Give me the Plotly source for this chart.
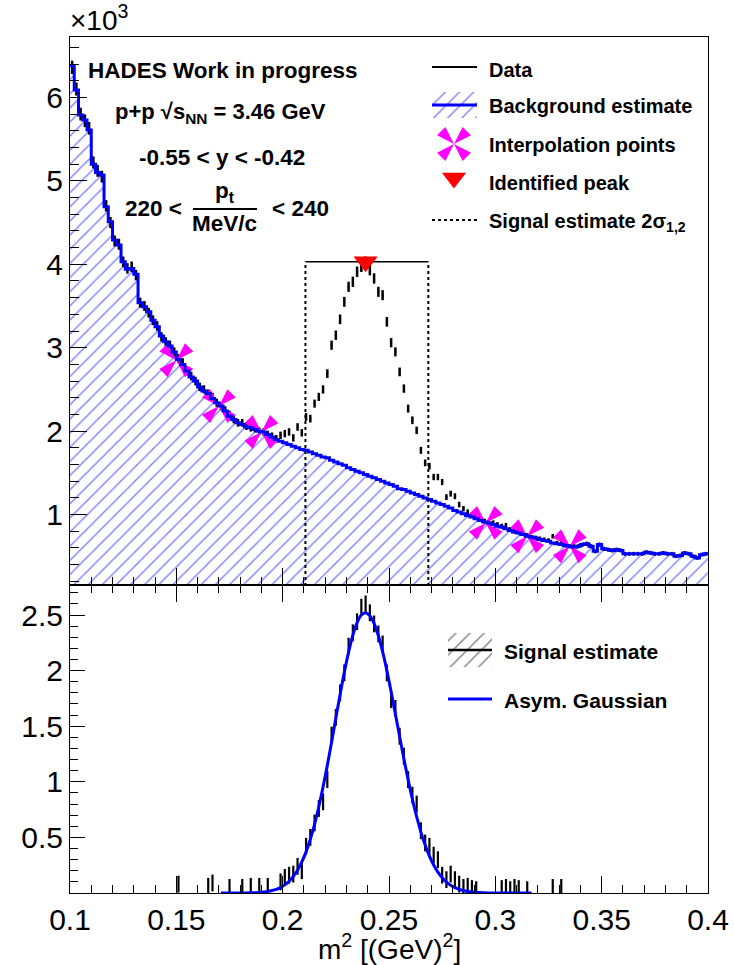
import plotly.graph_objects as go

W, H = 734, 965

# ---------------- data (m^2 in GeV^2, counts in units of 10^3) ----------------
m2_min, m2_max, bin_width = 0.100, 0.400, 0.002

data_counts = [
    6.36, 6.10, 5.80, 5.72, 5.63, 5.22, 5.12, 5.05, 4.70, 4.50,
    4.28, 4.24, 4.03, 3.95, 3.97, 3.87, 3.54, 3.50, 3.42, 3.33,
    3.26, 3.13, 3.07, 3.03, 2.95, 2.87, 2.82, 2.72, 2.66, 2.60,
    2.53, 2.50, 2.45, 2.41, 2.34, 2.30, 2.25, 2.20, 2.14, 2.10,
    2.10, 2.06, 2.04, 2.03, 2.00, 1.99, 1.96, 1.94, 1.91, 1.95,
    1.97, 1.99, 1.92, 2.05, 1.98, 2.17, 2.15, 2.33, 2.41, 2.50,
    2.69, 3.03, 3.15, 3.34, 3.55, 3.73, 3.79, 3.91, 3.97, 4.03,
    3.93, 3.83, 3.67, 3.63, 3.31, 3.06, 2.95, 2.71, 2.51, 2.27,
    2.13, 2.01, 1.77, 1.62, 1.58, 1.45, 1.45, 1.39, 1.21, 1.25,
    1.22, 1.12, 1.07, 1.03, 1.00, 0.97, 0.95, 0.92, 0.91, 0.90,
    0.88, 0.86, 0.87, 0.82, 0.80, 0.79, 0.77, 0.75, 0.73, 0.72,
    0.71, 0.70, 0.69, 0.74, 0.66, 0.66, 0.63, 0.62, 0.62, 0.62,
    0.64, 0.65, 0.62, 0.56, 0.64, 0.59, 0.58, 0.57, 0.58, 0.57,
    0.53, 0.53, 0.53, 0.53, 0.53, 0.55, 0.54, 0.53, 0.53, 0.54,
    0.53, 0.53, 0.50, 0.51, 0.54, 0.53, 0.50, 0.48, 0.52, 0.53,
]

background = [
    6.38, 6.09, 5.79, 5.73, 5.61, 5.20, 5.10, 5.07, 4.69, 4.51,
    4.29, 4.23, 4.03, 3.94, 3.95, 3.88, 3.54, 3.49, 3.43, 3.33,
    3.25, 3.14, 3.07, 3.02, 2.95, 2.86, 2.80, 2.72, 2.65, 2.60,
    2.53, 2.48, 2.45, 2.39, 2.34, 2.30, 2.24, 2.18, 2.14, 2.10,
    2.08, 2.05, 2.04, 2.02, 2.00, 1.99, 1.96, 1.93, 1.90, 1.88,
    1.86, 1.84, 1.82, 1.80, 1.78, 1.77, 1.75, 1.73, 1.71, 1.69,
    1.68, 1.65, 1.63, 1.61, 1.59, 1.56, 1.54, 1.52, 1.50, 1.48,
    1.46, 1.44, 1.42, 1.40, 1.38, 1.36, 1.34, 1.31, 1.30, 1.28,
    1.26, 1.24, 1.22, 1.20, 1.18, 1.16, 1.14, 1.12, 1.10, 1.08,
    1.05, 1.03, 1.01, 0.99, 0.97, 0.95, 0.93, 0.91, 0.90, 0.88,
    0.86, 0.85, 0.83, 0.81, 0.79, 0.78, 0.76, 0.74, 0.73, 0.72,
    0.70, 0.69, 0.68, 0.66, 0.65, 0.64, 0.63, 0.62, 0.61, 0.62,
    0.64, 0.65, 0.62, 0.56, 0.64, 0.59, 0.58, 0.57, 0.58, 0.57,
    0.53, 0.53, 0.53, 0.53, 0.53, 0.55, 0.54, 0.53, 0.53, 0.54,
    0.53, 0.53, 0.50, 0.51, 0.54, 0.53, 0.50, 0.48, 0.52, 0.53,
]

N = None
signal = [
    N, N, N, N, N, N, N, N, N, N,
    N, N, N, N, N, N, N, N, N, N,
    N, N, N, N, N, 0.08, N, N, N, N,
    N, N, 0.06, 0.09, N, N, N, 0.05, N, N,
    0.05, N, 0.06, N, 0.06, N, 0.06, N, N, 0.10,
    0.14, 0.16, 0.17, 0.24, 0.20, 0.42, 0.50, 0.63, 0.76, 0.82,
    1.02, 1.42, 1.58, 1.80, 1.98, 2.22, 2.34, 2.44, 2.57, 2.60,
    2.52, 2.42, 2.33, 2.24, 1.98, 1.74, 1.66, 1.41, 1.23, 1.02,
    0.88, 0.80, 0.56, 0.45, 0.42, 0.34, 0.30, 0.16, 0.12, 0.17,
    0.12, 0.08, 0.05, 0.06, 0.04, 0.03, N, N, N, N,
    N, 0.04, 0.05, 0.03, 0.05, 0.04, N, 0.03, N, N,
    N, N, N, 0.05, N, 0.05, N, N, N, N,
    N, N, N, N, N, N, N, N, N, N,
    N, N, N, N, N, N, N, N, N, N,
    N, N, N, N, N, N, N, N, N, N,
]

gauss_first_bin = 35
asym_gauss = [
    0.000, 0.000, 0.000, 0.000, 0.001, 0.001, 0.001, 0.002, 0.003, 0.005,
    0.009, 0.014, 0.022, 0.033, 0.049, 0.073, 0.105, 0.149, 0.205, 0.279,
    0.370, 0.484, 0.618, 0.776, 0.954, 1.148, 1.357, 1.572, 1.784, 1.986,
    2.167, 2.318, 2.431, 2.500, 2.520, 2.493, 2.423, 2.314, 2.170, 2.000,
    1.810, 1.610, 1.407, 1.207, 1.017, 0.843, 0.686, 0.548, 0.431, 0.332,
    0.252, 0.187, 0.137, 0.098, 0.070, 0.048, 0.033, 0.022, 0.014, 0.009,
    0.006, 0.004, 0.002, 0.001, 0.001, 0.000, 0.000, 0.000, 0.000, 0.000,
    0.000, 0.000, 0.000, 0.000,
]

interp_x = [0.150, 0.170, 0.190, 0.2955, 0.315, 0.335]
interp_y = [2.85, 2.30, 1.99, 0.90, 0.74, 0.62]
peak_x = [0.239]
peak_y = [4.03]
window_x = [0.2107, 0.2685]

x_tickvals = [0.1, 0.15, 0.2, 0.25, 0.3, 0.35, 0.4]
x_ticktext = ["0.1", "0.15", "0.2", "0.25", "0.3", "0.35", "0.4"]
top_ticks = [1, 2, 3, 4, 5, 6]           # in units of 10^3
bot_tickvals = [0.5, 1, 1.5, 2, 2.5]
bot_ticktext = ["0.5", "1", "1.5", "2", "2.5"]

# ---------------- derived geometry / units ----------------
K = 1000.0  # top panel drawn in raw counts; axis labelled in 10^3
nb = len(background)
edges = [m2_min + bin_width * i for i in range(nb + 1)]
centers = [m2_min + bin_width * (i + 0.5) for i in range(nb)]
gauss_x = centers[gauss_first_bin:gauss_first_bin + len(asym_gauss)]
data_raw = [v * K for v in data_counts]
bg_raw = [v * K for v in background]
bg_step = bg_raw + [bg_raw[-1]]
interp_raw = [v * K for v in interp_y]
peak_raw = [v * K for v in peak_y]

FONT = "Liberation Sans, Arial, Helvetica, sans-serif"
BLUE = "#0000ff"
MAGENTA = "#ff00ff"
HATCH = dict(shape="/", fgcolor=BLUE, bgcolor="rgba(0,0,0,0)", size=10, solidity=0.14)

def px(x):
    return x / W

def py(y):
    return 1 - y / H

fig = go.Figure()

# --- top panel ---
fig.add_trace(go.Scatter(
    x=edges, y=bg_step, mode="lines", line_shape="hv",
    line=dict(width=0, color=BLUE), fill="tozeroy", fillcolor="rgba(0,0,0,0)",
    fillpattern=HATCH, xaxis="x", yaxis="y", hoverinfo="skip"))

fig.add_trace(go.Scatter(
    x=centers, y=data_raw, mode="markers",
    marker=dict(size=2, color="black"),
    error_y=dict(type="sqrt", width=0, thickness=2.5, color="black"),
    xaxis="x", yaxis="y"))

MK = dict(symbol="arrow", size=19, color=MAGENTA, line=dict(width=0))
for ang in (45, 135, 225, 315):
    fig.add_trace(go.Scatter(
        x=interp_x, y=interp_raw, mode="markers",
        marker=dict(angle=ang, **MK), xaxis="x", yaxis="y"))

fig.add_trace(go.Scatter(
    x=edges, y=bg_step, mode="lines", line_shape="hv",
    line=dict(width=3, color=BLUE), xaxis="x", yaxis="y"))

fig.add_trace(go.Scatter(
    x=[window_x[0], window_x[0], None, window_x[1], window_x[1]],
    y=[0, peak_raw[0], None, 0, peak_raw[0]], mode="lines",
    line=dict(color="black", width=2, dash="dot"), xaxis="x", yaxis="y"))
fig.add_trace(go.Scatter(
    x=window_x, y=[peak_raw[0], peak_raw[0]], mode="lines",
    line=dict(color="black", width=1.5), xaxis="x", yaxis="y"))

fig.add_trace(go.Scatter(
    x=peak_x, y=peak_raw, mode="markers",
    marker=dict(symbol="triangle-down", size=21, color="red", line=dict(width=0)),
    xaxis="x", yaxis="y"))

# --- bottom panel ---
fig.add_trace(go.Scatter(
    x=centers, y=signal, mode="markers",
    marker=dict(symbol="line-ns", size=12, color="black",
                line=dict(width=2.2, color="black")),
    xaxis="x2", yaxis="y2"))
fig.add_trace(go.Scatter(
    x=gauss_x, y=asym_gauss, mode="lines", line_shape="spline",
    line=dict(color=BLUE, width=3), xaxis="x2", yaxis="y2"))

# --- legend samples on a pixel-space overlay axis ---
def ov(**kw):
    kw.setdefault("xaxis", "x3")
    kw.setdefault("yaxis", "y3")
    kw.setdefault("hoverinfo", "skip")
    fig.add_trace(go.Scatter(**kw))

L0, L1 = 432, 477
ov(x=[L0, L1], y=[67, 67], mode="lines", line=dict(color="black", width=2))
ov(x=[L0, L1, L1, L0, L0], y=[92, 92, 118, 118, 92], mode="lines", fill="toself",
   fillcolor="rgba(0,0,0,0)", line=dict(width=0), fillpattern=HATCH)
ov(x=[L0, L1], y=[105, 105], mode="lines", line=dict(color=BLUE, width=3))
for ang in (45, 135, 225, 315):
    ov(x=[454], y=[144], mode="markers", marker=dict(angle=ang, **MK))
ov(x=[454], y=[178], mode="markers",
   marker=dict(symbol="triangle-down", size=21, color="red", line=dict(width=0)))
ov(x=[L0, L1], y=[220, 220], mode="lines", line=dict(color="black", width=2, dash="dot"))

B0, B1 = 448, 492
ov(x=[B0, B1, B1, B0, B0], y=[633, 633, 667, 667, 633], mode="lines", fill="toself",
   fillcolor="rgba(0,0,0,0)", line=dict(width=0),
   fillpattern=dict(HATCH, fgcolor="black"))
ov(x=[B0, B1], y=[650, 650], mode="lines", line=dict(color="black", width=2.5))
ov(x=[B0, B1], y=[699, 699], mode="lines", line=dict(color=BLUE, width=3))

# ---------------- text ----------------
ann = []
def text(t, x, y, size, xanchor="left", yanchor="middle"):
    ann.append(dict(text=t, x=px(x), y=py(y), xref="paper", yref="paper",
                    xanchor=xanchor, yanchor=yanchor, showarrow=False,
                    font=dict(family=FONT, size=size, color="black")))

text("×10<sup>3</sup>", 68, 38, 28, yanchor="bottom")
text("<b>HADES Work in progress</b>", 86, 70, 22.5)
text("<b>p+p √s<sub>NN</sub> = 3.46 GeV</b>", 113, 113, 22)
text("<b>-0.55 &lt; y &lt; -0.42</b>", 222, 157, 22.5, xanchor="center")
text("<b>220 &lt;</b>", 184, 208, 22.5, xanchor="right")
text("<b>p<sub>t</sub></b>", 225, 192, 22.5, xanchor="center")
text("<b>MeV/c</b>", 225, 223, 22.5, xanchor="center")
text("<b>&lt; 240</b>", 270, 208, 22.5)

text("<b>Data</b>", 487, 70, 20)
text("<b>Background estimate</b>", 487, 106, 20)
text("<b>Interpolation points</b>", 487, 145, 20)
text("<b>Identified peak</b>", 487, 183, 20)
text("<b>Signal estimate 2σ<sub>1,2</sub></b>", 487, 222, 20)
text("<b>Signal estimate</b>", 502, 651, 21)
text("<b>Asym. Gaussian</b>", 502, 700, 21)

text("m<sup>2</sup> [(GeV)<sup>2</sup>]", 389, 947, 28, xanchor="center")

shapes = [dict(type="line", xref="paper", yref="paper",
               x0=px(193), x1=px(257), y0=py(209), y1=py(209),
               line=dict(color="black", width=2))]

axis_common = dict(showgrid=False, zeroline=False, showline=True, linecolor="black",
                   linewidth=1, ticks="inside", tickcolor="black", tickwidth=1,
                   automargin=False)
XD = [px(70), px(708)]

fig.update_layout(
    width=W, height=H, autosize=False,
    margin=dict(l=0, r=0, t=0, b=0, pad=0, autoexpand=False),
    paper_bgcolor="white", plot_bgcolor="rgba(0,0,0,0)",
    showlegend=False,
    font=dict(family=FONT, color="black"),
    xaxis=dict(domain=XD, range=[m2_min, m2_max], anchor="y", mirror=True,
               tickvals=x_tickvals, ticklen=17, showticklabels=False,
               minor=dict(ticks="inside", ticklen=8, tick0=0.1, dtick=0.01,
                          tickcolor="black", tickwidth=1),
               **axis_common),
    yaxis=dict(domain=[py(585), py(37)], range=[0.156 * K, 6.724 * K], anchor="x",
               mirror=True, tickvals=[t * K for t in top_ticks],
               ticktext=[str(t) for t in top_ticks], ticklen=17, tickfont=dict(size=30),
               minor=dict(ticks="inside", ticklen=9, tick0=0, dtick=0.2 * K,
                          tickcolor="black", tickwidth=1),
               **axis_common),
    xaxis2=dict(domain=XD, range=[m2_min, m2_max], anchor="y2", mirror="ticks",
                tickvals=x_tickvals, ticktext=x_ticktext, ticklen=17,
                tickfont=dict(size=30),
                minor=dict(ticks="inside", ticklen=8, tick0=0.1, dtick=0.01,
                           tickcolor="black", tickwidth=1),
                **axis_common),
    yaxis2=dict(domain=[py(893), py(585)], range=[0, 2.77], anchor="x2", mirror=True,
                tickvals=bot_tickvals, ticktext=bot_ticktext, ticklen=15,
                tickfont=dict(size=30),
                minor=dict(ticks="inside", ticklen=8, tick0=0, dtick=0.1,
                           tickcolor="black", tickwidth=1),
                **axis_common),
    xaxis3=dict(domain=[0, 1], range=[0, W], anchor="y3", visible=False,
                fixedrange=True, automargin=False),
    yaxis3=dict(domain=[0, 1], range=[H, 0], anchor="x3", visible=False,
                fixedrange=True, automargin=False),
    annotations=ann,
    shapes=shapes,
)

fig.write_html("out.html")
